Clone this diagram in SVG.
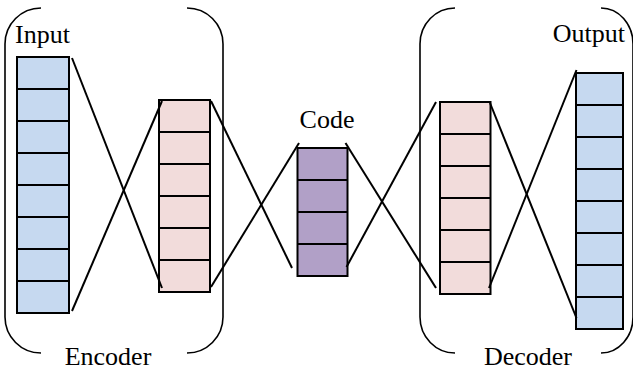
<svg xmlns="http://www.w3.org/2000/svg" width="633" height="370" viewBox="0 0 633 370">
<style>
.lbl{font-family:'Liberation Serif','Times New Roman',serif;font-size:26px;fill:#000}
.cell{stroke:#000;stroke-width:2}
.blue{fill:#c6d9f0}
.pink{fill:#f2dcdb}
.purple{fill:#b1a0c7}
.div{stroke:#000;stroke-width:2;fill:none}
.brk{stroke:#000;stroke-width:1.6;fill:none}
.con{stroke:#000;stroke-width:2;fill:none}
</style>
<rect width="633" height="370" fill="#fff"/>
<g id="encoder">
<path class="brk" d="M41 8 A36 36 0 0 0 5 44 V317 A36 36 0 0 0 41 353"/>
<path class="brk" d="M187 8 A36 36 0 0 1 223 44 V317 A36 36 0 0 1 187 353"/>
<text class="lbl" x="108" y="365" text-anchor="middle">Encoder</text>
</g>
<g id="decoder">
<path class="brk" d="M455 8 A35 36 0 0 0 420 44 V317 A35 36 0 0 0 455 353"/>
<path class="brk" d="M601 8 A32 36 0 0 1 633 44 V317 A32 36 0 0 1 601 353"/>
<text class="lbl" x="528" y="365" text-anchor="middle">Decoder</text>
</g>
<g id="input">
<rect class="cell blue" x="17" y="57" width="52" height="256"/>
<path class="div" d="M17 89H69M17 121H69M17 153H69M17 185H69M17 217H69M17 249H69M17 281H69"/>
<text class="lbl" x="15" y="43">Input</text>
</g>
<g id="hidden1">
<rect class="cell pink" x="159" y="100" width="51" height="192"/>
<path class="div" d="M159 132H210M159 164H210M159 196H210M159 228H210M159 260H210"/>
</g>
<g id="code">
<rect class="cell purple" x="297.5" y="148" width="50" height="128"/>
<path class="div" d="M297.5 180H347.5M297.5 212H347.5M297.5 244H347.5"/>
<text class="lbl" x="327" y="128" text-anchor="middle">Code</text>
</g>
<g id="hidden2">
<rect class="cell pink" x="440" y="102" width="50.5" height="192"/>
<path class="div" d="M440 134H490.5M440 166H490.5M440 198H490.5M440 230H490.5M440 262H490.5"/>
</g>
<g id="output">
<rect class="cell blue" x="576" y="73" width="47" height="256"/>
<path class="div" d="M576 105H623M576 137H623M576 169H623M576 201H623M576 233H623M576 265H623M576 297H623"/>
<text class="lbl" x="625" y="42" text-anchor="end">Output</text>
</g>
<g id="connectors">
<line class="con" x1="72" y1="58" x2="162" y2="288"/>
<line class="con" x1="72" y1="311" x2="162" y2="101"/>
<line class="con" x1="211" y1="101" x2="292" y2="268"/>
<line class="con" x1="211" y1="287" x2="299" y2="143"/>
<line class="con" x1="345.5" y1="143" x2="436" y2="288"/>
<line class="con" x1="346.5" y1="267" x2="436" y2="102"/>
<line class="con" x1="490" y1="103" x2="576.5" y2="318"/>
<line class="con" x1="489" y1="288" x2="576.5" y2="70"/>
</g>
</svg>
